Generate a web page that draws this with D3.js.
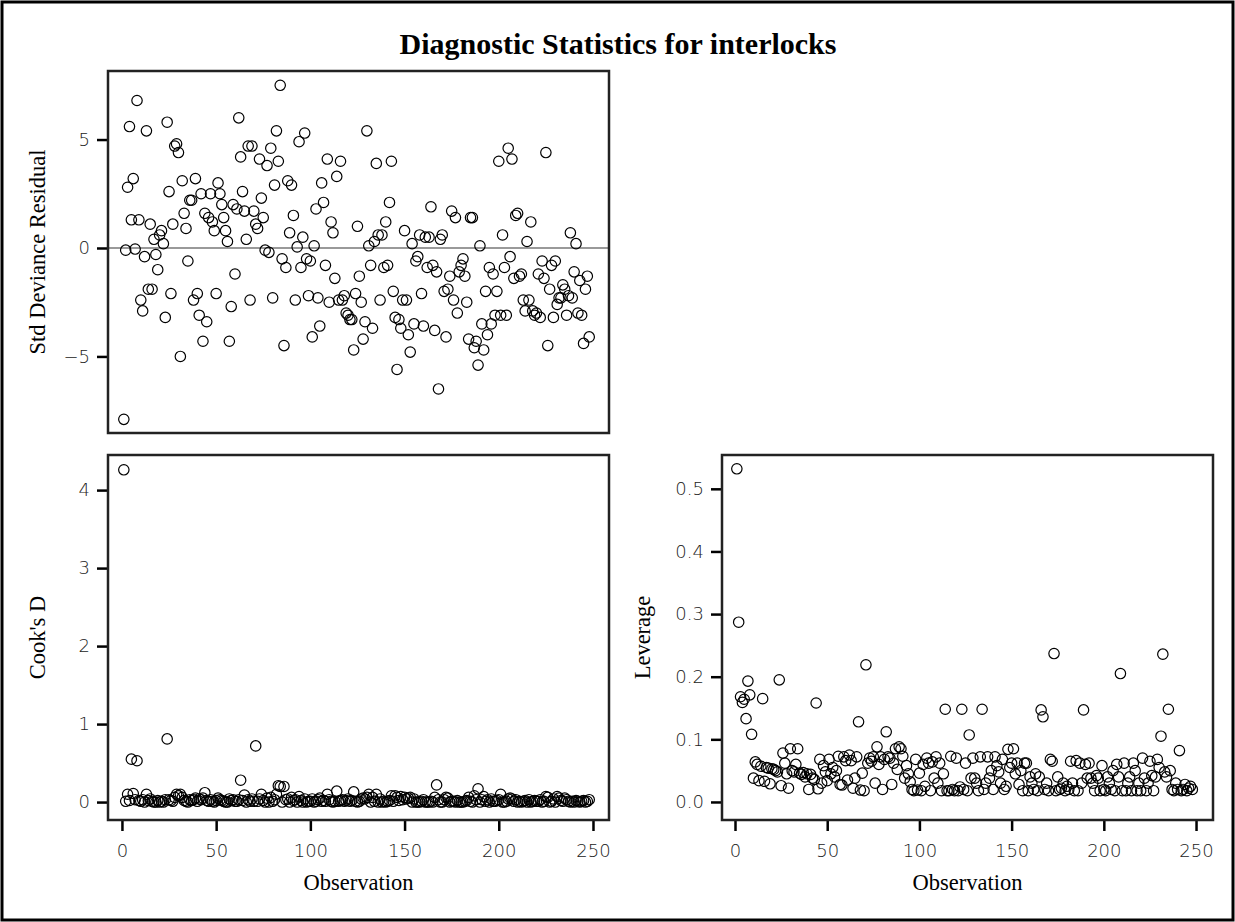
<!DOCTYPE html>
<html>
<head>
<meta charset="utf-8">
<script src="https://cdn.jsdelivr.net/npm/d3@7/dist/d3.min.js"></script>
<style>
  body { margin: 0; background: #fff; }
  svg { display: block; }
  .tick text { font-family: "DejaVu Sans", sans-serif; font-weight: 200; font-size: 18px; fill: #222; }
  .tick line { stroke: #000; stroke-width: 2.5; }
  .lbl { font-family: "Liberation Serif", "DejaVu Serif", serif; font-size: 22.5px; fill: #000; }
</style>
</head>
<body>
<svg width="1235" height="922"></svg>
<script>
// observation index 1..248
var obs = d3.range(1, 249);

var resid = [-7.9,-0.1,2.8,5.6,1.3,3.2,-0.05,6.8,1.3,-2.4, -2.9,-0.4,5.4,-1.9,1.1,-1.9,0.4,-0.3,-1.0,0.6,
  0.8,0.2,-3.2,5.8,2.6,-2.1,1.1,4.7,4.8,4.4, -5.0,3.1,1.6,0.9,-0.6,2.2,2.2,-2.4,3.2,-2.1,
  -3.1,2.5,-4.3,1.6,-3.4,1.4,2.5,1.2,0.8,-2.1, 3.0,2.5,2.0,1.4,0.8,0.3,-4.3,-2.7,2.0,-1.2,
  1.8,6.0,4.2,2.6,1.7,0.4,4.7,-2.4,4.7,1.7, 1.1,0.9,4.1,2.3,1.4,-0.1,3.8,-0.2,4.6,-2.3,
  2.9,5.4,4.0,7.5,-0.5,-4.5,-0.9,3.1,0.7,2.9, 1.5,-2.4,0.05,4.9,-0.9,0.5,5.3,-0.5,-2.2,-0.6,
  -4.1,0.1,1.8,-2.3,-3.6,3.0,2.1,-0.8,4.1,-2.5, 1.2,0.7,-1.4,3.3,-2.4,4.0,-2.4,-2.2,-3.0,-3.1,
  -3.3,-3.3,-4.7,-2.1,1.0,-1.3,-2.5,-4.2,-3.4,5.4, 0.1,-0.8,-3.7,0.3,3.9,0.6,-2.4,0.6,-0.9,1.2,
  -0.8,2.1,4.0,-2.0,-3.2,-5.6,-3.3,-3.7,-2.4,0.8, -2.4,-4.0,-4.8,0.2,-3.5,-0.6,-0.4,0.6,-2.1,-3.6,
  0.5,-0.9,0.5,1.9,-0.8,-3.8,-1.1,-6.5,0.4,0.6, -2.0,-4.1,-1.9,-1.3,1.7,-2.4,1.4,-3.0,-1.1,-0.8,
  -0.5,-1.3,-2.5,-4.2,1.4,1.4,-4.6,-4.3,-5.4,0.1, -3.5,-4.7,-2.0,-4.0,-0.9,-3.5,-1.2,-3.1,-2.0,4.0,
  -3.1,0.6,-0.9,-3.1,4.6,-0.4,4.1,-1.4,1.5,1.6, -1.3,-1.2,-2.4,-2.9,0.3,-2.4,1.2,-2.9,-3.1,-3.0,
  -1.2,-3.2,-0.6,-1.4,4.4,-4.5,-1.9,-0.8,-3.2,-0.6, -2.6,-2.3,-2.3,-1.7,-1.9,-3.1,-2.2,0.7,-2.3,-1.1,
  0.2,-3.0,-1.5,-3.1,-4.4,-1.9,-1.3,-4.1];

var cooksD = [4.26,0.01,0.10,0.02,0.55,0.11,0.03,0.53,0.02,0.01, 0.03,0.00,0.10,0.02,0.04,0.01,0.00,0.00,0.02,0.00,
  0.01,0.00,0.03,0.81,0.03,0.02,0.01,0.06,0.10,0.08, 0.10,0.06,0.02,0.01,0.00,0.03,0.02,0.03,0.05,0.01,
  0.04,0.03,0.05,0.12,0.02,0.01,0.03,0.01,0.00,0.02, 0.05,0.03,0.02,0.01,0.00,0.00,0.04,0.02,0.03,0.01,
  0.01,0.03,0.28,0.02,0.09,0.00,0.03,0.01,0.04,0.01, 0.72,0.01,0.04,0.10,0.02,0.00,0.05,0.00,0.06,0.01,
  0.03,0.10,0.21,0.20,0.00,0.20,0.03,0.04,0.00,0.06, 0.02,0.03,0.00,0.07,0.02,0.00,0.04,0.00,0.01,0.01,
  0.04,0.00,0.01,0.03,0.05,0.01,0.02,0.01,0.10,0.03, 0.01,0.00,0.01,0.14,0.01,0.02,0.03,0.01,0.02,0.04,
  0.01,0.02,0.13,0.01,0.00,0.01,0.04,0.05,0.04,0.06, 0.10,0.00,0.06,0.01,0.10,0.00,0.04,0.00,0.01,0.00,
  0.01,0.02,0.08,0.01,0.08,0.06,0.02,0.07,0.03,0.06, 0.04,0.05,0.06,0.00,0.04,0.00,0.00,0.00,0.01,0.03,
  0.00,0.00,0.00,0.01,0.00,0.06,0.22,0.03,0.00,0.00, 0.03,0.06,0.05,0.00,0.01,0.01,0.00,0.02,0.00,0.00,
  0.00,0.01,0.02,0.06,0.01,0.00,0.08,0.03,0.17,0.00, 0.03,0.07,0.01,0.03,0.00,0.04,0.01,0.01,0.02,0.03,
  0.10,0.00,0.00,0.01,0.04,0.05,0.04,0.01,0.03,0.00, 0.01,0.00,0.01,0.02,0.00,0.03,0.00,0.01,0.02,0.01,
  0.01,0.03,0.00,0.01,0.07,0.06,0.00,0.01,0.04,0.00, 0.07,0.05,0.02,0.01,0.05,0.03,0.01,0.00,0.01,0.00,
  0.02,0.01,0.00,0.01,0.02,0.00,0.01,0.03];

var leverage = [0.532,0.287,0.168,0.159,0.164,0.133,0.193,0.171,0.108,0.038, 0.064,0.060,0.034,0.057,0.165,0.033,0.055,0.054,0.029,0.053,
  0.052,0.050,0.048,0.195,0.026,0.078,0.062,0.045,0.022,0.085, 0.050,0.048,0.060,0.085,0.046,0.044,0.047,0.040,0.045,0.020,
  0.044,0.038,0.036,0.158,0.021,0.068,0.030,0.058,0.048,0.034, 0.068,0.045,0.055,0.040,0.050,0.073,0.028,0.027,0.072,0.066,
  0.035,0.075,0.066,0.022,0.038,0.072,0.128,0.019,0.046,0.018, 0.219,0.062,0.070,0.065,0.072,0.030,0.088,0.060,0.072,0.020,
  0.068,0.112,0.072,0.070,0.028,0.062,0.085,0.052,0.088,0.085, 0.073,0.038,0.058,0.045,0.032,0.020,0.018,0.068,0.019,0.046,
  0.018,0.060,0.025,0.070,0.062,0.018,0.064,0.038,0.072,0.030, 0.062,0.018,0.045,0.148,0.018,0.018,0.073,0.020,0.018,0.070,
  0.018,0.024,0.148,0.020,0.062,0.018,0.107,0.038,0.070,0.038, 0.030,0.018,0.072,0.148,0.020,0.030,0.072,0.038,0.050,0.020,
  0.072,0.058,0.048,0.030,0.068,0.020,0.025,0.084,0.055,0.062, 0.085,0.045,0.062,0.028,0.050,0.018,0.062,0.062,0.018,0.040,
  0.030,0.020,0.045,0.018,0.040,0.147,0.136,0.020,0.030,0.018, 0.068,0.065,0.237,0.018,0.040,0.020,0.022,0.030,0.018,0.025,
  0.020,0.065,0.030,0.018,0.066,0.018,0.062,0.030,0.147,0.060, 0.038,0.062,0.038,0.030,0.018,0.042,0.038,0.018,0.058,0.020,
  0.018,0.040,0.030,0.020,0.050,0.018,0.060,0.040,0.205,0.018, 0.062,0.018,0.030,0.040,0.018,0.062,0.050,0.018,0.030,0.018,
  0.070,0.038,0.018,0.030,0.065,0.042,0.018,0.040,0.068,0.055, 0.105,0.236,0.048,0.040,0.148,0.050,0.020,0.018,0.030,0.020,
  0.082,0.018,0.020,0.028,0.018,0.022,0.025,0.020];

var xTicks = [0, 50, 100, 150, 200, 250];

var svg = d3.select("svg");

// outer frame
svg.append("rect")
    .attr("x", 2).attr("y", 2)
    .attr("width", 1231).attr("height", 918)
    .attr("fill", "none").attr("stroke", "#000").attr("stroke-width", 3);

svg.append("text")
    .attr("x", 618).attr("y", 54)
    .attr("text-anchor", "middle")
    .style("font-family", "'Liberation Serif', 'DejaVu Serif', serif")
    .style("font-size", "30px").style("font-weight", "bold")
    .text("Diagnostic Statistics for interlocks");

function panel(opt) {
    var g = svg.append("g").attr("transform", "translate(" + opt.left + "," + opt.top + ")");

    var x = d3.scaleLinear().domain(opt.xDomain).range([0, opt.width]);
    var y = d3.scaleLinear().domain(opt.yDomain).range([opt.height, 0]);

    var yAxis = d3.axisLeft(y).tickValues(opt.yTicks).tickSize(11).tickPadding(7)
        .tickFormat(opt.yFormat || d3.format("d"));
    g.append("g").call(yAxis).call(function(s) { s.select(".domain").remove(); });

    if (opt.xAxis) {
        g.append("g")
            .attr("transform", "translate(0," + opt.height + ")")
            .call(d3.axisBottom(x).tickValues(xTicks).tickSize(11).tickPadding(13))
            .call(function(s) { s.select(".domain").remove(); });
        g.append("text")
            .attr("class", "lbl")
            .attr("x", opt.width / 2).attr("y", opt.height + 70)
            .attr("text-anchor", "middle")
            .text("Observation");
    }

    if (opt.refLine) {
        g.append("line")
            .attr("x1", 0).attr("x2", opt.width)
            .attr("y1", y(0)).attr("y2", y(0))
            .attr("stroke", "#999").attr("stroke-width", 2);
    }

    g.append("g").selectAll("circle")
        .data(opt.values)
        .join("circle")
            .attr("cx", function(d, i) { return x(obs[i]); })
            .attr("cy", function(d) { return y(d); })
            .attr("r", 5.2)
            .attr("fill", "none")
            .attr("stroke", "#000")
            .attr("stroke-width", 1.2);

    g.append("rect")
        .attr("width", opt.width).attr("height", opt.height)
        .attr("fill", "none").attr("stroke", "#222").attr("stroke-width", 2.5);

    g.append("text")
        .attr("class", "lbl")
        .attr("transform", "translate(" + opt.labelX + "," + (opt.height / 2) + ") rotate(-90)")
        .attr("text-anchor", "middle")
        .text(opt.yLabel);
}

panel({
    left: 108, top: 71, width: 501, height: 362,
    xDomain: [-7.4, 258.5], yDomain: [-8.53, 8.16],
    yTicks: [-5, 0, 5], values: resid, refLine: true,
    yLabel: "Std Deviance Residual", labelX: -63
});

panel({
    left: 108, top: 455, width: 501, height: 365,
    xDomain: [-7.4, 258.5], yDomain: [-0.23, 4.45],
    yTicks: [0, 1, 2, 3, 4], values: cooksD, xAxis: true,
    yLabel: "Cook's D", labelX: -63
});

panel({
    left: 722, top: 455, width: 491, height: 365,
    xDomain: [-7.05, 259.2], yDomain: [-0.0288, 0.554],
    yTicks: [0, 0.1, 0.2, 0.3, 0.4, 0.5], yFormat: d3.format(".1f"),
    values: leverage, xAxis: true,
    yLabel: "Leverage", labelX: -72
});
</script>
</body>
</html>
